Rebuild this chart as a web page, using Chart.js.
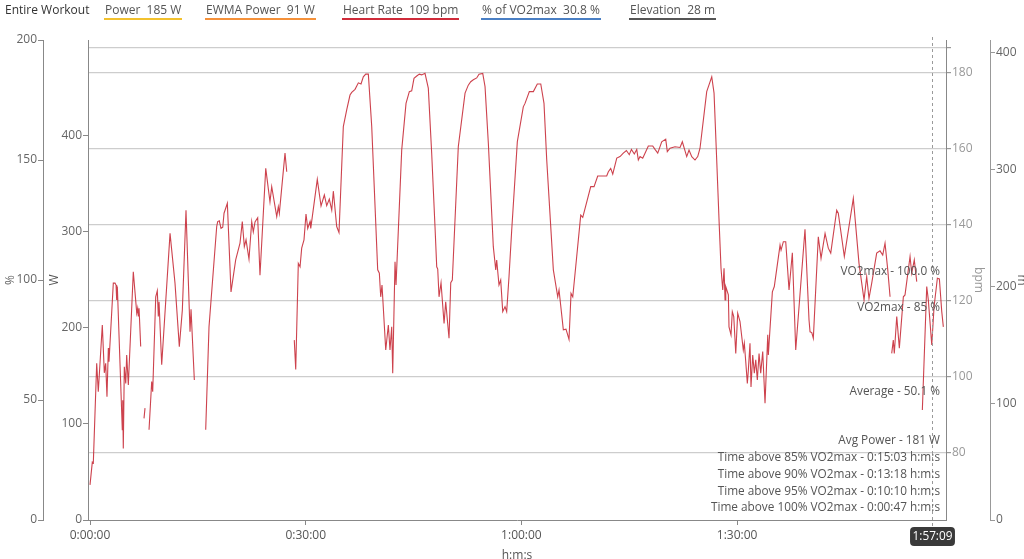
<!DOCTYPE html>
<html>
<head>
<meta charset="utf-8">
<script src="https://cdn.jsdelivr.net/npm/chart.js@4.4.1/dist/chart.umd.min.js"></script>
<style>
    html, body { margin: 0; padding: 0; background: #fff; }
    #wrap { position: relative; width: 1024px; height: 559px; overflow: hidden; }
    #legend { position: absolute; top: 0; left: 0; width: 1024px; height: 24px; font-family: 'Open Sans', sans-serif; font-size: 12px; color: #555; }
    #legend span { position: absolute; top: 2px; white-space: pre; line-height: 15px; padding: 0 1px 1px 1px; }
    canvas { position: absolute; top: 0; left: 0; }
</style>
</head>
<body>
<div id="wrap">
    <canvas id="hrChart" width="1024" height="559"></canvas>
    <div id="legend"></div>
</div>
<script>
// Legend entries across the top
const legendNames = ['Entire Workout', 'Power', 'EWMA Power', 'Heart Rate', '% of VO2max', 'Elevation'];
const legendValues = ['', '185 W', '91 W', '109 bpm', '30.8 %', '28 m'];
const legendColors = [null, '#f2c12e', '#f5913a', '#cf2b3a', '#4a7fc4', '#555555'];

// Heart rate samples: elapsed minutes and bpm (null = no signal)
const hrMinutes = [
    0.00, 0.32, 0.46, 0.93, 1.15, 1.71, 1.99, 2.18, 2.36, 2.55, 2.64,
    3.24, 3.48, 3.62, 3.71, 3.80, 4.49, 4.55, 4.63, 4.77, 4.97, 5.10, 5.33,
    6.02, 6.50, 6.63, 6.72, 6.82, 7.05, 7.30, 7.51, 7.65, 7.90,
    8.21, 8.58, 8.72, 9.14, 9.36, 9.50, 9.60, 9.97, 11.13, 11.82, 12.42, 12.84,
    13.35, 13.91, 14.05, 14.51, 14.80, 16.09, 16.55, 17.62, 17.76, 17.98, 18.22, 18.46,
    18.64, 19.10, 19.61, 20.26, 20.86, 21.18, 21.46, 21.70, 22.11, 22.49, 22.71, 22.95,
    23.32, 23.64, 24.44, 25.03, 25.27, 25.97, 26.19, 26.33, 27.12, 27.36, 27.70,
    28.41, 28.61, 28.97, 29.21, 29.44, 29.76, 30.04, 30.28, 30.60, 30.70, 31.61, 32.13,
    32.59, 32.92, 33.28, 33.62, 33.84, 34.31, 34.63, 35.23, 35.70, 36.16, 36.40, 36.86,
    37.32, 37.69, 38.01, 38.35, 38.71, 39.18, 40.01, 40.24, 40.43, 40.61, 41.13, 41.49,
    41.72, 41.96, 42.10, 42.42, 42.56, 43.35, 43.95, 44.41, 44.74, 45.06, 45.44, 45.80,
    46.13, 46.59, 47.05, 47.52, 47.98, 48.22, 48.36, 48.54, 48.82, 49.24, 49.47, 49.70,
    49.93, 50.17, 50.39, 51.22, 52.16, 52.61, 52.95, 53.31, 53.78, 54.10, 54.62, 54.94,
    55.40, 56.09, 56.43, 56.56, 56.88, 57.12, 57.40, 57.72, 57.95, 58.28, 58.65, 59.43,
    60.26, 60.50, 61.10, 61.66, 62.21, 62.69, 63.14, 63.52, 64.44, 65.05, 65.23, 65.83,
    66.20, 66.62, 66.90, 67.14, 67.69, 68.25, 68.53, 69.64, 70.10, 70.61, 71.86, 72.09,
    72.42, 72.70, 73.26, 73.71, 74.17, 74.60, 75.00, 75.30, 75.70, 76.04, 76.26, 76.50,
    76.87, 77.19, 77.65, 78.26, 78.58, 78.96, 79.51, 80.07, 80.29, 80.67, 81.36, 82.06,
    82.38, 82.99, 83.31, 83.69, 84.14, 84.52, 84.84, 85.77, 86.47, 86.79, 87.16, 87.52,
    87.76, 88.00, 88.18, 88.32, 88.42, 88.78, 88.87, 89.15, 89.33, 89.53, 89.81, 90.08,
    90.40, 90.86, 91.00, 91.20, 91.42, 91.56, 91.79, 91.93, 92.17, 92.39, 92.59, 92.81,
    93.05, 93.28, 93.56, 93.88, 94.26, 94.34, 94.90, 95.17, 95.97, 96.11, 96.43, 96.76,
    97.22, 97.68, 98.15, 99.44, 100.00, 100.14, 100.38, 100.60, 101.29, 101.67, 102.23, 102.68,
    103.02, 103.85, 104.07, 104.91, 106.16, 106.95, 107.65, 108.02, 108.34, 108.72, 109.41, 109.87,
    110.25, 110.57, 110.95, 111.27, 111.40, 111.50, 111.72, 111.86, 112.20, 112.56, 113.12, 113.35,
    114.05, 114.28, 114.64, 114.98, 115.30, 115.76, 116.37, 116.59, 117.07, 117.39, 117.85, 118.13,
    118.46, 118.68
];
const hrBpm = [
    71.6, 77.6, 77.4, 103.6, 96.1, 113.7, 101.1, 103.6, 94.8, 107.6, 104.0,
    124.7, 124.7, 124.2, 120.3, 123.8, 86.1, 93.9, 81.2, 102.7, 98.3, 105.8, 97.9,
    127.7, 116.8, 118.1, 115.9, 118.1, 108.0, null, 89.1, 91.8, null,
    86.1, 98.8, 96.1, 121.1, 122.7, 115.9, 119.8, 103.2, 137.8, 124.7, 108.0, 117.6,
    143.9, 111.9, 117.8, 99.2, null, 86.1, 113.2, 139.6, 140.9, 141.1, 139.1, 139.4,
    143.1, 145.7, 122.4, 130.8, 135.2, 140.9, 134.3, 136.1, 131.0, 140.9, 138.2, 140.8,
    141.9, 126.8, 154.9, 146.1, 150.1, 142.2, 144.8, 143.1, 158.9, 154.0, null,
    109.7, 102.0, 129.9, 129.0, 133.9, 136.1, 142.9, 139.1, 140.9, 139.1, 152.0, 145.0,
    147.9, 145.1, 146.8, 143.9, 148.9, 139.6, 138.0, 165.9, 170.3, 174.2, 174.9, 175.7,
    177.4, 177.1, 179.0, 179.7, 179.7, 165.9, 128.2, 127.3, 121.1, 124.2, 107.1, 113.7,
    107.1, 113.2, 101.0, 130.3, 124.2, 159.7, 172.0, 175.1, 175.3, 178.6, 179.2, 179.7,
    179.5, 179.9, 176.0, 158.9, 139.6, 129.0, 128.4, 121.1, 124.8, 114.1, 119.8, 115.0,
    110.2, 124.8, 125.5, 160.6, 174.7, 176.8, 177.7, 178.2, 178.7, 179.7, 179.9, 176.4,
    161.5, 134.3, 128.2, 130.8, 124.2, 125.5, 117.2, 118.5, 117.2, 126.6, 138.7, 161.9,
    171.1, 172.0, 175.1, 175.1, 177.1, 177.1, 172.0, 157.1, 128.2, 121.1, 122.9, 112.4,
    112.6, 109.9, 122.0, 121.1, 131.7, 142.6, 142.0, 150.1, 150.1, 152.9, 152.9, 154.0,
    154.9, 153.4, 157.6, 158.0, 158.9, 159.6, 158.5, 159.9, 158.7, 159.9, 157.1, 158.0,
    157.6, 158.9, 160.8, 160.8, 159.9, 158.9, 161.9, 162.6, 159.3, 160.2, 160.6, 160.4,
    161.9, 158.0, 159.7, 158.0, 157.1, 158.0, 160.2, 175.1, 179.0, 174.7, 157.1, 139.6,
    128.6, 122.9, 128.6, 120.3, 123.8, 121.6, 113.2, 111.1, 117.2, 115.9, 106.2, 116.8,
    114.6, 107.1, 108.9, 104.0, 98.3, 101.8, 108.9, 97.4, 105.8, 101.0, 104.5, 99.2,
    106.2, 101.0, 106.7, 93.1, 111.1, 105.8, 122.4, 123.8, 134.7, 133.4, 135.6, 135.6,
    122.9, 132.7, 107.1, 138.9, 115.0, 111.9, 111.7, 110.2, 136.9, 131.2, 137.8, 133.9,
    132.6, 143.9, 143.1, 131.7, 147.0, 129.9, 120.3, 126.4, 120.7, 124.7, 132.6, 133.2,
    132.1, 135.2, 128.2, 121.1, null, 106.2, 109.7, 106.2, 115.9, 107.6, 121.1, 121.6,
    131.7, 127.3, 130.8, 125.1, null, 91.3, 123.8, 120.3, 108.4, 118.5, 126.0, 125.8,
    117.2, 113.2
];

// Axis ticks
const timeTicks = [0, 30, 60, 90];
const timeTickLabels = ['0:00:00', '0:30:00', '1:00:00', '1:30:00'];
const percentTicks = [0, 50, 100, 150, 200];
const powerTicks = [0, 100, 200, 300, 400];
const bpmTicks = [80, 100, 120, 140, 160, 180];
const bpmTopLine = 186.6;
const elevationTicks = [0, 100, 200, 300, 400];

// Reference lines on the % axis and summary text
const vo2Levels = [100, 85, 50.1];
const vo2Labels = ['VO2max - 100.0 %', 'VO2max - 85 %', 'Average - 50.1 %'];
const summaryLines = [
    'Avg Power - 181 W',
    'Time above 85% VO2max - 0:15:03 h:m:s',
    'Time above 90% VO2max - 0:13:18 h:m:s',
    'Time above 95% VO2max - 0:10:10 h:m:s',
    'Time above 100% VO2max - 0:00:47 h:m:s'
];
const cursorMinutes = 117.15;
const cursorLabel = '1:57:09';

const FONT_FAMILY = "'Open Sans', sans-serif";

document.addEventListener('DOMContentLoaded', function () {
    buildLegend();
    drawChart();
});

function buildLegend() {
    const legend = document.getElementById('legend');
    const lefts = [4, 104, 205, 342, 481, 629];
    legendNames.forEach((name, i) => {
        const span = document.createElement('span');
        span.textContent = legendValues[i] ? name + '  ' + legendValues[i] : name;
        span.style.left = lefts[i] + 'px';
        if (legendColors[i]) {
            span.style.borderBottom = '2px solid ' + legendColors[i];
        } else {
            span.style.color = '#333';
        }
        legend.appendChild(span);
    });
}

function fixedWidth(w) {
    return function (scale) { scale.width = w; };
}

function setTicks(values) {
    return function (scale) { scale.ticks = values.map(v => ({ value: v })); };
}

function drawChart() {
    const points = hrMinutes.map((t, i) => ({ x: t, y: hrBpm[i] }));

    const overlay = {
        id: 'overlay',
        afterDraw(chart) {
            const { ctx, chartArea, scales } = chart;
            ctx.save();

            // Cursor line
            const cx = Math.round(scales.x.getPixelForValue(cursorMinutes)) + 0.5;
            ctx.strokeStyle = '#9a9a9a';
            ctx.lineWidth = 1;
            ctx.setLineDash([3, 3]);
            ctx.beginPath();
            ctx.moveTo(cx, chartArea.top - 3);
            ctx.lineTo(cx, chartArea.bottom + 6);
            ctx.stroke();
            ctx.setLineDash([]);

            // VO2max / average labels
            ctx.font = '11.8px ' + FONT_FAMILY;
            ctx.fillStyle = '#555';
            ctx.textAlign = 'right';
            ctx.textBaseline = 'bottom';
            const tx = chartArea.right - 6;
            vo2Labels.forEach((txt, i) => {
                const y = scales.pct.getPixelForValue(vo2Levels[i]);
                ctx.fillText(txt, tx, y - 2);
            });

            // Summary block in bottom right
            ctx.textBaseline = 'middle';
            summaryLines.forEach((txt, i) => {
                const y = chartArea.bottom - 12 - (summaryLines.length - 1 - i) * 16.75;
                ctx.fillText(txt, tx, y);
            });

            // Cursor time badge
            const w = ctx.measureText(cursorLabel).width + 5;
            const bx = cx - w / 2, by = chartArea.bottom + 7, bh = 19;
            ctx.fillStyle = '#3a3a3a';
            ctx.beginPath();
            ctx.roundRect(bx, by, w, bh, 4);
            ctx.fill();
            ctx.fillStyle = '#fff';
            ctx.textAlign = 'center';
            ctx.fillText(cursorLabel, cx, by + bh / 2 + 0.5);

            ctx.restore();
        }
    };

    const tickFont = { family: FONT_FAMILY, size: 12 };

    new Chart(document.getElementById('hrChart'), {
        type: 'line',
        data: {
            datasets: [{
                label: 'Heart Rate',
                data: points,
                yAxisID: 'bpm',
                borderColor: 'rgba(198, 40, 52, 0.88)',
                borderWidth: 1.1,
                pointRadius: 0,
                tension: 0,
                spanGaps: false
            }]
        },
        options: {
            responsive: false,
            animation: false,
            layout: { padding: { top: 40, left: 0, right: 0, bottom: 0 } },
            plugins: {
                legend: { display: false },
                tooltip: { enabled: false }
            },
            scales: {
                x: {
                    type: 'linear',
                    min: -0.28,
                    max: 119.05,
                    afterBuildTicks: setTicks(timeTicks),
                    afterFit: function (scale) { scale.height = 39; },
                    border: { color: '#888' },
                    grid: { drawOnChartArea: false, tickLength: 5, color: '#888' },
                    ticks: {
                        color: '#555', font: tickFont, padding: 3, maxRotation: 0, autoSkip: false,
                        callback: (v, i) => timeTickLabels[i]
                    },
                    title: { display: true, text: 'h:m:s', color: '#555', font: tickFont, padding: { top: 0, bottom: -4 } }
                },
                pct: {
                    position: 'left', weight: 2, min: 0, max: 200,
                    afterBuildTicks: setTicks(percentTicks),
                    afterFit: fixedWidth(43),
                    border: { color: '#888' },
                    grid: { drawOnChartArea: false, tickLength: 5, color: '#888' },
                    ticks: { color: '#666', font: tickFont, padding: 1 },
                    title: { display: true, text: '%', color: '#666', font: tickFont, padding: { top: 3, bottom: 0 } }
                },
                watt: {
                    position: 'left', weight: 1, min: 0, max: 499,
                    afterBuildTicks: setTicks(powerTicks),
                    afterFit: fixedWidth(45),
                    border: { color: '#888' },
                    grid: { drawOnChartArea: false, tickLength: 5, color: '#888' },
                    ticks: { color: '#666', font: tickFont, padding: 1 },
                    title: { display: true, text: 'W', color: '#555', font: tickFont, padding: { top: 4, bottom: 0 } }
                },
                bpm: {
                    position: 'right', weight: 1, min: 62.37, max: 188.68,
                    afterBuildTicks: setTicks(bpmTicks.concat([bpmTopLine])),
                    afterFit: fixedWidth(44),
                    border: { color: '#888' },
                    grid: { drawOnChartArea: true, tickLength: 5, color: '#cdcdcd', lineWidth: 1.2, tickColor: '#999' },
                    ticks: {
                        color: '#999', font: tickFont, padding: 1,
                        callback: v => (bpmTicks.includes(v) ? String(v) : '')
                    },
                    title: { display: true, text: 'bpm', color: '#999', font: tickFont, padding: { top: 4, bottom: 0 } }
                },
                elev: {
                    position: 'right', weight: 2, min: 0, max: 411,
                    afterBuildTicks: setTicks(elevationTicks),
                    afterFit: fixedWidth(34),
                    border: { color: '#999' },
                    grid: { drawOnChartArea: false, tickLength: 5, color: '#999' },
                    ticks: { color: '#666', font: tickFont, padding: 1 },
                    title: { display: true, text: 'm', color: '#666', font: tickFont, padding: { top: -5, bottom: 0 } }
                }
            }
        },
        plugins: [overlay]
    });
}
</script>
</body>
</html>
